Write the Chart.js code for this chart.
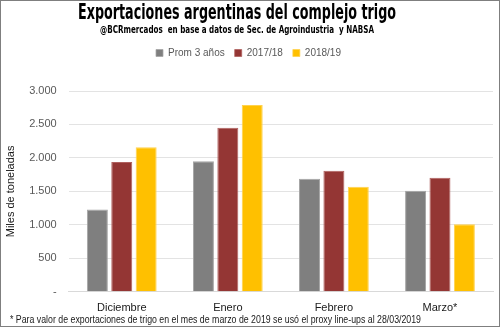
<!DOCTYPE html>
<html>
<head>
<meta charset="utf-8">
<script src="https://cdn.jsdelivr.net/npm/chart.js@4"></script>
<style>
  html, body { margin: 0; padding: 0; background: #fff; }
  #wrap { width: 500px; height: 327px; position: relative; }
</style>
</head>
<body>
<div id="wrap"><canvas id="chart" width="500" height="327"></canvas></div>
<script>
// values (miles de toneladas)
const categories = ['Diciembre', 'Enero', 'Febrero', 'Marzo*'];
const prom3 = [1230, 1950, 1690, 1510];
const camp1718 = [1940, 2450, 1810, 1705];
const camp1819 = [2160, 2790, 1570, 1010];
const seriesNames = ['Prom 3 años', '2017/18', '2018/19'];

const titleText = 'Exportaciones argentinas del complejo trigo';
const subtitleText = '@BCRmercados  en base a datos de Sec. de Agroindustria  y NABSA';
const footnoteText = '* Para valor de exportaciones de trigo en el mes de marzo de 2019 se usó el proxy line-ups al 28/03/2019';

const fmt = v => v === 0 ? '-' : v.toLocaleString('de-DE');

// extra room under the legend
const legendGap = {
    id: 'legendGap',
    beforeInit(chart) {
        const fit = chart.legend.fit;
        chart.legend.fit = function () {
            fit.bind(chart.legend)();
            this.height += 23;
        };
    }
};

// titles, footnote and frame are drawn by hand (text is squeezed like the original)
const decorations = {
    id: 'decorations',
    afterDraw(chart) {
        const ctx = chart.ctx;
        ctx.save();
        ctx.fillStyle = '#000';
        ctx.textAlign = 'center';
        ctx.textBaseline = 'alphabetic';
        ctx.font = 'bold 21px "Liberation Sans Narrow", "DejaVu Sans Condensed", sans-serif';
        ctx.fillText(titleText, 237, 19, 318);
        ctx.font = 'bold 11px "Liberation Sans Narrow", "DejaVu Sans Condensed", sans-serif';
        ctx.fillText(subtitleText, 237, 33, 274);
        ctx.textAlign = 'left';
        ctx.font = '10px "Liberation Sans Narrow", "Liberation Sans", sans-serif';
        ctx.fillStyle = '#1a1a1a';
        ctx.fillText(footnoteText, 10, 323, 411);
        ctx.strokeStyle = '#7f7f7f';
        ctx.lineWidth = 1;
        ctx.strokeRect(0.5, 0.5, 499, 326);
        ctx.restore();
    }
};

const ctx = document.getElementById('chart').getContext('2d');
new Chart(ctx, {
    type: 'bar',
    data: {
        labels: categories,
        datasets: [
            { label: seriesNames[0], data: prom3, backgroundColor: '#7f7f7f', borderColor: '#a5a5a5' },
            { label: seriesNames[1], data: camp1718, backgroundColor: '#943634', borderColor: '#b0605e' },
            { label: seriesNames[2], data: camp1819, backgroundColor: '#ffc000', borderColor: '#ffd24d' }
        ]
    },
    options: {
        responsive: false,
        animation: false,
        datasets: {
            bar: {
                categoryPercentage: 0.69,
                barPercentage: 0.86,
                borderWidth: { top: 1, left: 1, right: 1, bottom: 0 }
            }
        },
        layout: { padding: { top: 38, left: 4, right: 7, bottom: 10 } },
        plugins: {
            legend: {
                position: 'top',
                labels: {
                    boxWidth: 7,
                    boxHeight: 7,
                    padding: 10,
                    color: '#595959',
                    font: { family: 'Liberation Sans', size: 10 }
                }
            },
            tooltip: { enabled: false }
        },
        scales: {
            x: {
                grid: { display: false },
                border: { color: '#d9d9d9' },
                ticks: {
                    color: '#1a1a1a',
                    padding: 2,
                    font: { family: 'Liberation Sans', size: 11 }
                }
            },
            y: {
                min: 0,
                max: 3000,
                grid: { color: '#e3e3e3', drawTicks: false },
                border: { display: false },
                ticks: {
                    stepSize: 500,
                    padding: 12,
                    color: '#595959',
                    font: { family: 'Liberation Sans', size: 11 },
                    callback: v => fmt(v)
                },
                title: {
                    display: true,
                    text: 'Miles de toneladas',
                    color: '#1a1a1a',
                    padding: { top: 0, bottom: 0 },
                    font: { family: 'Liberation Sans', size: 11 }
                }
            }
        }
    },
    plugins: [legendGap, decorations]
});
</script>
</body>
</html>
